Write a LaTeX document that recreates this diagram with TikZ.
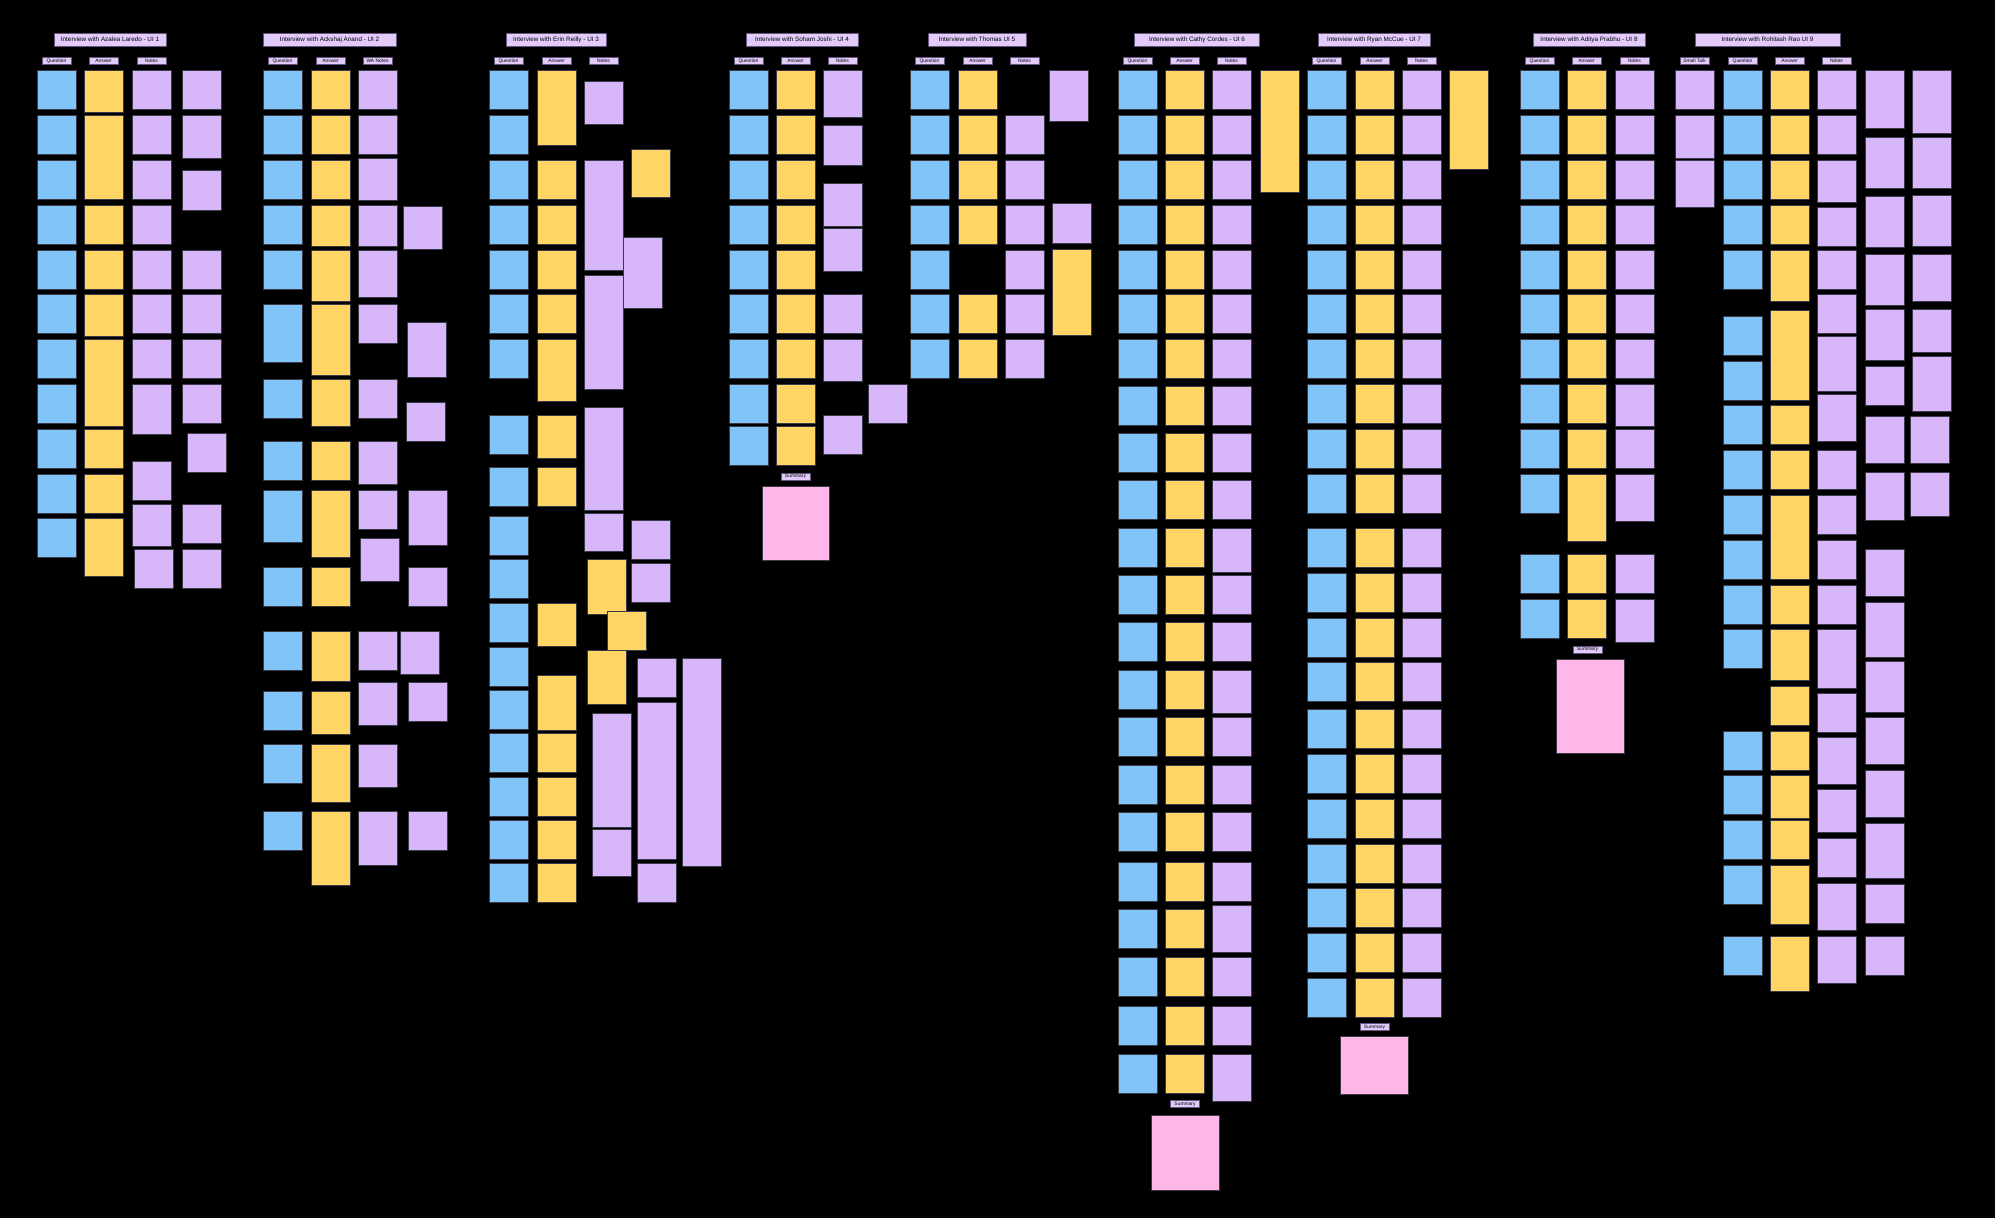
\documentclass[tikz,border=0pt]{standalone}
\usepackage{fontspec}
\setmainfont{Liberation Sans}
\usepackage{tikz}
\definecolor{qblue}{RGB}{128,196,250}
\definecolor{ayellow}{RGB}{255,214,102}
\definecolor{npurple}{RGB}{216,182,250}
\definecolor{spink}{RGB}{255,182,232}
\definecolor{headfill}{RGB}{226,202,251}
\definecolor{headline}{RGB}{100,84,122}
\definecolor{edge}{RGB}{58,58,72}
\begin{document}
\begin{tikzpicture}[x=0.5mm,y=-0.5mm,
  qnote/.style={fill=qblue,draw=edge,line width=0.7pt},
  anote/.style={fill=ayellow,draw=edge,line width=0.7pt},
  nnote/.style={fill=npurple,draw=edge,line width=0.7pt},
  snote/.style={fill=spink,draw=edge,line width=0.7pt},
  head/.style={fill=headfill,draw=headline,line width=0.8pt,minimum height=6.35mm,inner sep=0pt,font=\fontsize{9}{10}\selectfont},
  colhead/.style={fill=headfill,draw=headline,line width=0.7pt,minimum width=14.5mm,minimum height=3.6mm,inner sep=0pt,font=\fontsize{7}{8}\selectfont}]
  \fill[black] (0,0) rectangle (1995,1218);

  \node[head,minimum width=56mm] (h1) at (110,39.7) {Interview with Azalea Laredo - UI 1};
  \node[colhead] (q1) at (56.5,60.8) {Question};
  \node[colhead] (a1) at (103.5,60.8) {Answer};
  \node[colhead] (n1) at (151.5,60.8) {Notes};
  \foreach \y in {70,115,160,205,250,294,339,384,429,474,518}
    \draw[qnote] (37,\y) rectangle ++(39,39);
  \foreach \y/\h in {70/42,115/84,205/39,250/39,294/42,339/87,429/39,474/39,518/58}
    \draw[anote] (84,\y) rectangle ++(39,\h);
  \foreach \x/\y/\h in {132/70/39,132/115/39,132/160/39,132/205/39,132/250/39,132/294/39,132/339/39,
      132/384/50,132/461/39,132/504/42,134/549/39,182/70/39,182/115/43,182/170/40,182/250/39,
      182/294/39,182/339/39,182/384/39,187/433/39,182/504/39,182/549/39}
    \draw[nnote] (\x,\y) rectangle ++(39,\h);

  \node[head,minimum width=66.5mm] (h2) at (329.5,39.7) {Interview with Ackshaj Anand - UI 2};
  \node[colhead] (q2) at (282.5,60.8) {Question};
  \node[colhead] (a2) at (330.5,60.8) {Answer};
  \node[colhead] (n2) at (377.5,60.8) {WA Notes};
  \foreach \y/\h in {70/39,115/39,160/39,205/39,250/39,304/58,379/39,441/39,490/52,567/39,631/39,
      691/39,744/39,811/39}
    \draw[qnote] (263,\y) rectangle ++(39,\h);
  \foreach \y/\h in {70/39,115/39,160/39,205/41,250/51,304/71,379/47,441/39,490/67,567/39,631/50,
      691/43,744/58,811/74}
    \draw[anote] (311,\y) rectangle ++(39,\h);
  \foreach \x/\y/\h in {358/70/39,358/115/39,358/158/42,358/205/41,358/250/47,358/304/39,358/379/39,
      358/441/43,358/490/39,360/538/43,358/631/39,358/682/43,358/744/43,358/811/54,403/206/43,
      407/322/55,406/402/39,408/490/55,408/567/39,400/631/43,408/682/39,408/811/39}
    \draw[nnote] (\x,\y) rectangle ++(39,\h);

  \node[head,minimum width=50mm] (h3) at (556,39.7) {Interview with Erin Reilly - UI 3};
  \node[colhead] (q3) at (508.5,60.8) {Question};
  \node[colhead] (a3) at (556.5,60.8) {Answer};
  \node[colhead] (n3) at (603.5,60.8) {Notes};
  \foreach \y in {70,115,160,205,250,294,339,415,467,516,559,603,647,690,733,777,820,863}
    \draw[qnote] (489,\y) rectangle ++(39,39);
  \foreach \x/\y/\h in {537/70/75,537/160/39,537/205/39,537/250/39,537/294/39,537/339/62,537/415/43,
      537/467/39,537/603/43,537/675/55,537/733/39,537/777/39,537/820/39,537/863/39,587/559/55,
      607/611/39,587/650/54,631/149/48}
    \draw[anote] (\x,\y) rectangle ++(39,\h);
  \foreach \x/\y/\h in {584/81/43,584/160/110,584/275/114,584/407/103,584/513/38,623/237/71,
      631/520/39,631/563/39,592/713/114,592/829/47,637/658/39,637/702/157,637/863/39,682/658/208}
    \draw[nnote] (\x,\y) rectangle ++(39,\h);

  \node[head,minimum width=56mm] (h4) at (802,39.7) {Interview with Soham Joshi - UI 4};
  \node[colhead] (q4) at (748.5,60.8) {Question};
  \node[colhead] (a4) at (795.5,60.8) {Answer};
  \node[colhead] (n4) at (842.5,60.8) {Notes};
  \foreach \y in {70,115,160,205,250,294,339,384,426} {
    \draw[qnote] (729,\y) rectangle ++(39,39);
    \draw[anote] (776,\y) rectangle ++(39,39);
  }
  \foreach \x/\y/\h in {823/70/47,823/125/40,823/183/43,823/228/43,823/294/39,823/339/42,823/415/39,
      868/384/39}
    \draw[nnote] (\x,\y) rectangle ++(39,\h);
  \node[colhead] (s4) at (795.5,476.4) {Summary};
  \draw[snote] (762,486) rectangle (829,560);

  \node[head,minimum width=49mm] (h5) at (977,39.7) {Interview with Thomas UI 5};
  \node[colhead] (q5) at (929.5,60.8) {Question};
  \node[colhead] (a5) at (977.5,60.8) {Answer};
  \node[colhead] (n5) at (1024.5,60.8) {Notes};
  \foreach \y in {70,115,160,205,250,294,339}
    \draw[qnote] (910,\y) rectangle ++(39,39);
  \foreach \x/\y/\h in {958/70/39,958/115/39,958/160/39,958/205/39,958/294/39,958/339/39,1052/249/86}
    \draw[anote] (\x,\y) rectangle ++(39,\h);
  \foreach \x/\y/\h in {1005/115/39,1005/160/39,1005/205/39,1005/250/39,1005/294/39,1005/339/39,
      1049/70/51,1052/203/40}
    \draw[nnote] (\x,\y) rectangle ++(39,\h);

  \node[head,minimum width=62.5mm] (h6) at (1197,39.7) {Interview with Cathy Cordes - UI 6};
  \node[colhead] (q6) at (1137.5,60.8) {Question};
  \node[colhead] (a6) at (1184.5,60.8) {Answer};
  \node[colhead] (n6) at (1231.5,60.8) {Notes};
  \foreach \y in {70,115,160,205,250,294,339,386,433,480,528,575,622,670,717,765,812,862,909,957,
      1006,1054} {
    \draw[qnote] (1118,\y) rectangle ++(39,39);
    \draw[anote] (1165,\y) rectangle ++(39,39);
  }
  \foreach \y/\h in {70/39,115/39,160/39,205/39,250/39,294/39,339/39,386/39,433/39,480/39,528/44,
      575/39,622/39,670/43,717/39,765/39,812/39,862/39,905/47,957/39,1006/39,1054/47}
    \draw[nnote] (1212,\y) rectangle ++(39,\h);
  \draw[anote] (1260,70) rectangle ++(39,122);
  \node[colhead] (s6) at (1185,1104) {Summary};
  \draw[snote] (1151,1115) rectangle (1219,1190);

  \node[head,minimum width=56mm] (h7) at (1374,39.7) {Interview with Ryan McCue - UI 7};
  \node[colhead] (q7) at (1326.5,60.8) {Question};
  \node[colhead] (a7) at (1374.5,60.8) {Answer};
  \node[colhead] (n7) at (1421.5,60.8) {Notes};
  \foreach \y in {70,115,160,205,250,294,339,384,429,474,528,573,618,662,709,754,799,844,888,933,978} {
    \draw[qnote] (1307,\y) rectangle ++(39,39);
    \draw[anote] (1355,\y) rectangle ++(39,39);
    \draw[nnote] (1402,\y) rectangle ++(39,39);
  }
  \draw[anote] (1449,70) rectangle ++(39,99);
  \node[colhead] (s7) at (1374.5,1027) {Summary};
  \draw[snote] (1340,1036) rectangle (1408,1094);

  \node[head,minimum width=56mm] (h8) at (1589,39.7) {Interview with Aditya Prabhu - UI 8};
  \node[colhead] (q8) at (1539.5,60.8) {Question};
  \node[colhead] (a8) at (1586.5,60.8) {Answer};
  \node[colhead] (n8) at (1634.5,60.8) {Notes};
  \foreach \y in {70,115,160,205,250,294,339,384,429,474,554,599}
    \draw[qnote] (1520,\y) rectangle ++(39,39);
  \foreach \y/\h in {70/39,115/39,160/39,205/39,250/39,294/39,339/39,384/39,429/39,474/67,554/39,599/39}
    \draw[anote] (1567,\y) rectangle ++(39,\h);
  \foreach \y/\h in {70/39,115/39,160/39,205/39,250/39,294/39,339/39,384/42,429/39,474/47,554/39,599/43}
    \draw[nnote] (1615,\y) rectangle ++(39,\h);
  \node[colhead] (s8) at (1587.5,649.5) {Summary};
  \draw[snote] (1556,659) rectangle (1624,753);

  \node[head,minimum width=72.5mm] (h9) at (1767.5,39.7) {Interview with Rohitash Rao UI 9};
  \node[colhead] (t9) at (1694.5,60.8) {Small Talk};
  \node[colhead] (q9) at (1742.5,60.8) {Question};
  \node[colhead] (a9) at (1789.5,60.8) {Answer};
  \node[colhead] (n9) at (1836.5,60.8) {Notes};
  \foreach \y in {70,115,160,205,250,316,361,405,450,495,540,585,629,731,775,820,865,936}
    \draw[qnote] (1723,\y) rectangle ++(39,39);
  \foreach \y/\h in {70/39,115/39,160/39,205/39,250/51,310/90,405/39,450/39,495/84,585/39,629/51,
      686/39,731/39,775/43,820/39,865/59,936/55}
    \draw[anote] (1770,\y) rectangle ++(39,\h);
  \foreach \x/\y/\h in {1675/70/39,1675/115/43,1675/160/47,1817/70/39,1817/115/39,1817/160/42,
      1817/207/39,1817/250/39,1817/294/39,1817/336/55,1817/394/47,1817/450/39,1817/495/39,1817/540/39,
      1817/585/39,1817/629/59,1817/693/39,1817/737/47,1817/789/43,1817/838/39,1817/883/47,1817/936/47,
      1865/70/58,1865/137/51,1865/196/51,1865/254/51,1865/309/51,1865/366/39,1865/416/47,1865/472/48,
      1865/549/47,1865/602/55,1865/661/51,1865/717/47,1865/770/47,1865/823/55,1865/884/39,1865/936/39,
      1912/70/63,1912/137/51,1912/195/51,1912/254/47,1912/309/43,1912/356/55,1910/416/47,1910/472/44}
    \draw[nnote] (\x,\y) rectangle ++(39,\h);
\end{tikzpicture}
\end{document}
